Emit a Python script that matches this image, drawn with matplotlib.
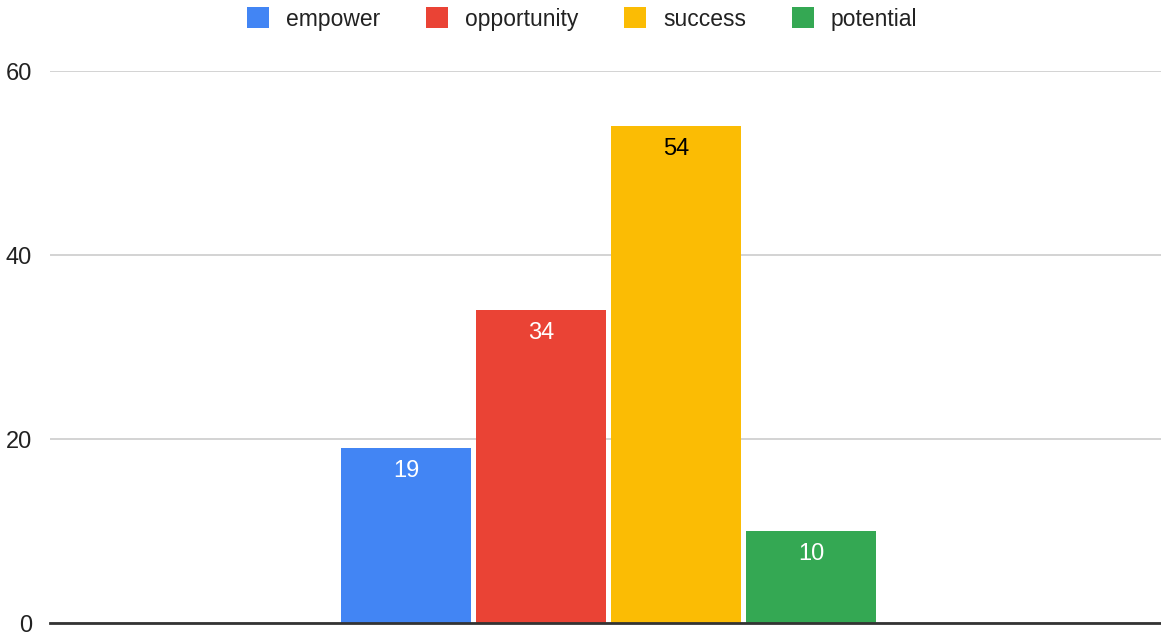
import matplotlib.pyplot as plt

# data
series = ["empower", "opportunity", "success", "potential"]
values = [19, 34, 54, 10]
colors = ["#4285F4", "#EA4335", "#FBBC04", "#34A853"]
label_colors = ["white", "white", "black", "white"]
yticks = [0, 20, 40, 60]

plt.rcParams['font.family'] = ['Liberation Sans', 'DejaVu Sans']

fig = plt.figure(figsize=(11.61, 6.32), dpi=100)
ax = fig.add_axes([50 / 1161, 9 / 632, 1111 / 1161, (623 - 71) / 632])

W = 1111.0
width = 130 / W
step = 135 / W
center = 3 / W
offsets = [(i - 1.5) * step + center for i in range(len(series))]

for off, v, c, name in zip(offsets, values, colors, series):
    ax.bar(off, v, width=width, color=c, label=name, zorder=3)

# value labels inside the top of each bar
for off, v, lc in zip(offsets, values, label_colors):
    ax.annotate(str(v), (off, v), xytext=(0, -16.5), textcoords="offset points",
                ha="center", va="center", color=lc, fontsize=17, zorder=4)

ax.set_xlim(-0.5, 0.5)
ax.set_ylim(0, 60)
ax.set_yticks(yticks)
ax.set_xticks([])
ax.tick_params(axis="y", length=0, pad=13, labelsize=17, labelcolor="#222222")
for lab in ax.get_yticklabels():
    lab.set_verticalalignment("center_baseline")
ax.yaxis.grid(True, color="#cccccc", linewidth=1.2, zorder=0)
for s in ["top", "right", "left"]:
    ax.spines[s].set_visible(False)
ax.spines["bottom"].set_color("#333333")
ax.spines["bottom"].set_linewidth(2)
ax.spines["bottom"].set_zorder(5)

leg = fig.legend(loc="center", bbox_to_anchor=(582 / 1161, 1 - 19 / 632), ncol=4,
                 frameon=False, fontsize=16.5, handlelength=0.95, handleheight=1.0,
                 columnspacing=2.0, handletextpad=0.75)
for t in leg.get_texts():
    t.set_color("#222222")

fig.savefig("out.png", dpi=100)
